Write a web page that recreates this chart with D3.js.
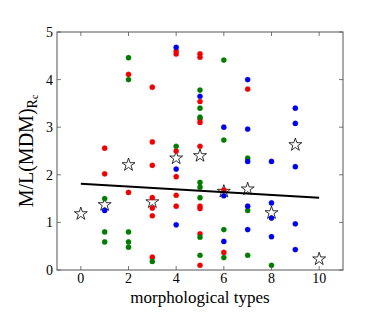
<!DOCTYPE html>
<html><head><meta charset="utf-8">
<script src="https://cdn.jsdelivr.net/npm/d3@7"></script>
<style>body{margin:0;background:#fff}svg{display:block}</style>
</head><body>
<script>
// ---- data ----
const redX   = [1,1, 2,2, 3,3,3,3,3,3,3, 4,4,4,4,4,4, 5,5,5,5,5,5,5,5,5,5, 6,6, 7];
const redY   = [2.56,2.02, 4.11,1.63, 3.84,2.69,2.2,1.52,1.3,1.14,0.27, 4.6,4.54,2.5,1.96,1.57,1.34, 4.54,4.47,3.54,3.17,3.1,2.6,1.34,1.29,0.76,0.1, 1.68,0.37, 3.8];
const greenX = [1,1,1, 2,2,2,2,2, 3, 4, 5,5,5,5,5,5,5,5, 6,6,6,6, 7,7,7, 8];
const greenY = [1.5,0.8,0.59, 4.46,4.0,0.8,0.59,0.48, 0.18, 2.6, 3.78,3.4,3.21,1.84,1.74,1.52,0.69,0.31, 4.41,2.73,0.85,0.26, 2.35,1.25,0.31, 0.1];
const blueX  = [1, 4,4,4, 5, 6,6,6, 7,7,7,7,7, 8,8,8,8, 9,9,9,9,9];
const blueY  = [1.25, 4.68,2.12,0.95, 3.65, 3.0,1.56,0.6, 4.0,2.96,2.28,1.34,0.85, 2.28,1.41,1.09,0.7, 3.4,3.08,2.17,0.97,0.43];
const starX  = [0,1,2,3,4,5,6,7,8,9,10];
const starY  = [1.18,1.37,2.21,1.43,2.35,2.4,1.65,1.7,1.2,2.63,0.23];
const fitX   = [0,10];
const fitY   = [1.81,1.52];
const xTicks = [0,2,4,6,8,10];
const yTicks = [0,1,2,3,4,5];

const W = 382, H = 318;
const m = {l:57, r:343, t:32, b:270};
const svg = d3.select("body").append("svg").attr("width",W).attr("height",H);
const x = d3.scaleLinear().domain([-1,11]).range([m.l,m.r]);
const y = d3.scaleLinear().domain([0,5]).range([m.b,m.t]);
const font = "'Liberation Serif','DejaVu Serif',serif";

// stars (white fill)
const star = d3.symbol().type(d3.symbolStar).size(52);
svg.append("g").selectAll("path").data(starX).join("path")
  .attr("d", star)
  .attr("transform",(d,i)=>`translate(${x(d)},${y(starY[i])})`)
  .attr("fill","white").attr("stroke","#000").attr("stroke-width",0.8);

function dots(xs, ys, col){
  svg.append("g").selectAll("circle").data(xs).join("circle")
    .attr("cx",d=>x(d)).attr("cy",(d,i)=>y(ys[i])).attr("r",2.6)
    .attr("fill",col).attr("stroke",col).attr("stroke-width",0.3);
}
dots(redX, redY, "#f00000");
dots(greenX, greenY, "#007d00");
dots(blueX, blueY, "#0000f0");

// fit line
svg.append("path")
  .attr("d", d3.line().x(d=>x(d)).y((d,i)=>y(fitY[i]))(fitX))
  .attr("stroke","#000").attr("stroke-width",2).attr("fill","none");

// frame
svg.append("rect").attr("x",m.l).attr("y",m.t).attr("width",m.r-m.l).attr("height",m.b-m.t)
  .attr("fill","none").attr("stroke","#555").attr("stroke-width",1);

// ticks (inward, all sides)
const tl = 4;
const tg = svg.append("g").attr("stroke","#555").attr("stroke-width",0.8);
xTicks.forEach(t=>{
  tg.append("line").attr("x1",x(t)).attr("x2",x(t)).attr("y1",m.b).attr("y2",m.b-tl);
  tg.append("line").attr("x1",x(t)).attr("x2",x(t)).attr("y1",m.t).attr("y2",m.t+tl);
});
yTicks.forEach(t=>{
  tg.append("line").attr("y1",y(t)).attr("y2",y(t)).attr("x1",m.l).attr("x2",m.l+tl);
  tg.append("line").attr("y1",y(t)).attr("y2",y(t)).attr("x1",m.r).attr("x2",m.r-tl);
});

// tick labels
svg.append("g").selectAll("text").data(xTicks).join("text")
  .attr("x",d=>x(d)).attr("y",m.b+13).attr("text-anchor","middle")
  .attr("font-family",font).attr("font-size",14).text(d=>d);
svg.append("g").selectAll("text").data(yTicks).join("text")
  .attr("x",m.l-4).attr("y",d=>y(d)+5).attr("text-anchor","end")
  .attr("font-family",font).attr("font-size",14).text(d=>d);

// axis titles
svg.append("text").attr("x",(m.l+m.r)/2).attr("y",303).attr("text-anchor","middle")
  .attr("font-family",font).attr("font-size",17).text("morphological types");

const yl = svg.append("text").attr("transform",`translate(33,${(m.t+m.b)/2}) rotate(-90)`)
  .attr("text-anchor","middle").attr("font-family",font).attr("font-size",20);
yl.append("tspan").text("M/L(MDM)");
yl.append("tspan").attr("font-size",14).attr("dy",4).text("R");
yl.append("tspan").attr("font-size",10).attr("dy",1).text("c");
</script>
</body></html>
